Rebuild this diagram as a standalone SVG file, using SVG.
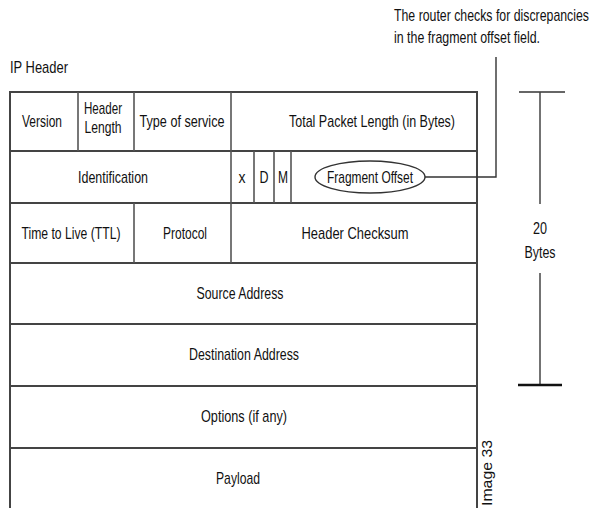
<svg xmlns="http://www.w3.org/2000/svg" width="595" height="508" viewBox="0 0 595 508">
<style>
text{font-family:"Liberation Sans",Arial,sans-serif;font-size:17px;fill:#111}
.c{text-anchor:middle}
.ln{stroke:#444;stroke-width:2;fill:none}
.vl{stroke:#555;stroke-width:1.6;fill:none}
.cn{stroke:#333;stroke-width:1.4;fill:none}
</style>
<rect width="595" height="508" fill="#fff"/>
<text id="title" x="10" y="73" textLength="58" lengthAdjust="spacingAndGlyphs">IP Header</text>
<g id="note">
<text x="394" y="21" textLength="195" lengthAdjust="spacingAndGlyphs">The router checks for discrepancies</text>
<text x="394" y="43" textLength="146" lengthAdjust="spacingAndGlyphs">in the fragment offset field.</text>
</g>
<g id="table">
<rect x="10" y="92" width="467" height="420" class="ln"/>
<line x1="10" y1="151" x2="477" y2="151" class="ln"/>
<line x1="10" y1="203" x2="477" y2="203" class="ln"/>
<line x1="10" y1="263" x2="477" y2="263" class="ln"/>
<line x1="10" y1="324" x2="477" y2="324" class="ln"/>
<line x1="10" y1="386" x2="477" y2="386" class="ln"/>
<line x1="10" y1="448" x2="477" y2="448" class="ln"/>
<line x1="78" y1="92" x2="78" y2="151" class="vl"/>
<line x1="134" y1="92" x2="134" y2="151" class="vl"/>
<line x1="231" y1="92" x2="231" y2="263" class="vl"/>
<line x1="254" y1="151" x2="254" y2="203" class="vl"/>
<line x1="274" y1="151" x2="274" y2="203" class="vl"/>
<line x1="291" y1="151" x2="291" y2="203" class="vl"/>
<line x1="134" y1="203" x2="134" y2="263" class="vl"/>
</g>
<g id="version"><text class="c" x="42" y="127" textLength="40" lengthAdjust="spacingAndGlyphs">Version</text></g>
<g id="header-length"><text class="c" x="103" y="114" textLength="38" lengthAdjust="spacingAndGlyphs">Header</text><text class="c" x="103" y="133" textLength="37" lengthAdjust="spacingAndGlyphs">Length</text></g>
<g id="tos"><text class="c" x="182" y="127" textLength="85" lengthAdjust="spacingAndGlyphs">Type of service</text></g>
<g id="total-length"><text class="c" x="372" y="127" textLength="166" lengthAdjust="spacingAndGlyphs">Total Packet Length (in Bytes)</text></g>
<g id="identification"><text class="c" x="113" y="183" textLength="70" lengthAdjust="spacingAndGlyphs">Identification</text></g>
<g id="flag-x"><text class="c" x="242" y="183" textLength="7" lengthAdjust="spacingAndGlyphs">x</text></g>
<g id="flag-d"><text class="c" x="264" y="183" textLength="9" lengthAdjust="spacingAndGlyphs">D</text></g>
<g id="flag-m"><text class="c" x="283" y="183" textLength="10" lengthAdjust="spacingAndGlyphs">M</text></g>
<g id="fragment-offset"><ellipse cx="370" cy="177" rx="55" ry="16" class="cn"/><text class="c" x="370" y="183" textLength="86" lengthAdjust="spacingAndGlyphs">Fragment Offset</text></g>
<g id="ttl"><text class="c" x="71" y="239" textLength="99" lengthAdjust="spacingAndGlyphs">Time to Live (TTL)</text></g>
<g id="protocol"><text class="c" x="185" y="239" textLength="44" lengthAdjust="spacingAndGlyphs">Protocol</text></g>
<g id="checksum"><text class="c" x="355" y="239" textLength="107" lengthAdjust="spacingAndGlyphs">Header Checksum</text></g>
<g id="source"><text class="c" x="240" y="299" textLength="87" lengthAdjust="spacingAndGlyphs">Source Address</text></g>
<g id="destination"><text class="c" x="244" y="360" textLength="110" lengthAdjust="spacingAndGlyphs">Destination Address</text></g>
<g id="options"><text class="c" x="244" y="422" textLength="86" lengthAdjust="spacingAndGlyphs">Options (if any)</text></g>
<g id="payload"><text class="c" x="238" y="484" textLength="44" lengthAdjust="spacingAndGlyphs">Payload</text></g>
<g id="connectors">
<polyline points="425,177 496,177 496,57" class="cn"/>
</g>
<g id="bracket">
<line x1="519" y1="92" x2="565" y2="92" stroke="#666" stroke-width="2"/>
<line x1="540" y1="92" x2="540" y2="204" stroke="#444" stroke-width="1.5"/>
<line x1="540" y1="273" x2="540" y2="385" stroke="#444" stroke-width="1.5"/>
<line x1="518" y1="385" x2="562" y2="385" stroke="#111" stroke-width="2.5"/>
<text class="c" x="540" y="234" textLength="14" lengthAdjust="spacingAndGlyphs">20</text>
<text class="c" x="540" y="258" textLength="31" lengthAdjust="spacingAndGlyphs">Bytes</text>
</g>
<text id="image-label" transform="translate(492,506) rotate(-90)" style="font-size:15px" textLength="66" lengthAdjust="spacingAndGlyphs">Image 33</text>
</svg>
